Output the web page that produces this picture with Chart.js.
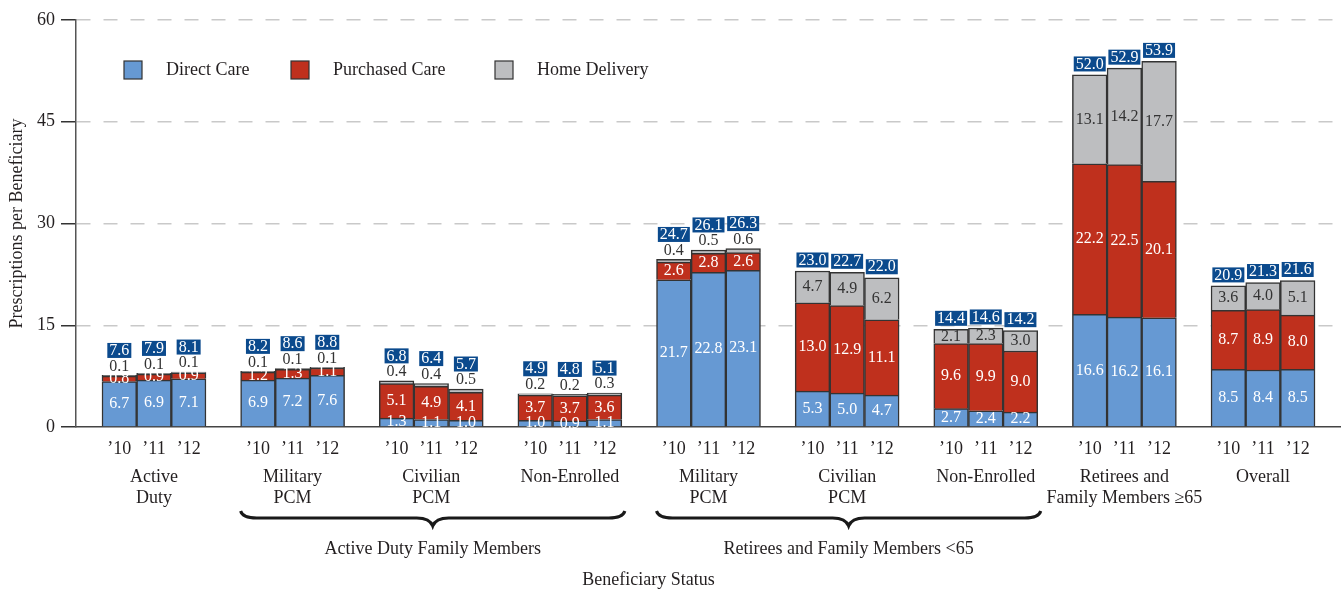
<!DOCTYPE html>
<html><head><meta charset="utf-8">
<script src="https://cdn.jsdelivr.net/npm/chart.js@4.4.0/dist/chart.umd.min.js"></script>
<style>html,body{margin:0;padding:0;background:#fff}#wrap{width:1341px;height:590px;position:relative}</style>
</head><body><div id="wrap"><canvas id="c" width="1341" height="590"></canvas></div>
<script>
// ---- data ----
const years = ['\u201910', '\u201911', '\u201912'];
const groupLabels = [['Active', 'Duty'], ['Military', 'PCM'], ['Civilian', 'PCM'], ['Non-Enrolled'], ['Military', 'PCM'], ['Civilian', 'PCM'], ['Non-Enrolled'], ['Retirees and', 'Family Members \u226565'], ['Overall']];
const superGroups = [
  { label: 'Active Duty Family Members', from: 1, to: 3 },
  { label: 'Retirees and Family Members <65', from: 4, to: 6 }
];
const seriesNames = ['Direct Care', 'Purchased Care', 'Home Delivery'];
const directCare    = [6.7, 6.9, 7.1, 6.9, 7.2, 7.6, 1.3, 1.1, 1.0, 1.0, 0.9, 1.1, 21.7, 22.8, 23.1, 5.3, 5.0, 4.7, 2.7, 2.4, 2.2, 16.6, 16.2, 16.1, 8.5, 8.4, 8.5];
const purchasedCare = [0.8, 0.9, 0.9, 1.2, 1.3, 1.1, 5.1, 4.9, 4.1, 3.7, 3.7, 3.6, 2.6, 2.8, 2.6, 13.0, 12.9, 11.1, 9.6, 9.9, 9.0, 22.2, 22.5, 20.1, 8.7, 8.9, 8.0];
const homeDelivery  = [0.1, 0.1, 0.1, 0.1, 0.1, 0.1, 0.4, 0.4, 0.5, 0.2, 0.2, 0.3, 0.4, 0.5, 0.6, 4.7, 4.9, 6.2, 2.1, 2.3, 3.0, 13.1, 14.2, 17.7, 3.6, 4.0, 5.1];
const totals        = [7.6, 7.9, 8.1, 8.2, 8.6, 8.8, 6.8, 6.4, 5.7, 4.9, 4.8, 5.1, 24.7, 26.1, 26.3, 23.0, 22.7, 22.0, 14.4, 14.6, 14.2, 52.0, 52.9, 53.9, 20.9, 21.3, 21.6];
const yTickValues = [0, 15, 30, 45, 60];

// ---- styling / layout ----
const FONT = "'Liberation Serif', 'Times New Roman', serif";
const TXT = '#231f20';
const COLORS = ['#6699d3', '#bf301d', '#bdbec0'];
const BOX = '#0b4a8d';
const SLOTS_PER_GROUP = 4;       // 3 bars + 1 gap
const EDGE = 0.75;               // empty slot fraction at each end
const nGroups = groupLabels.length;
const xMax = nGroups * SLOTS_PER_GROUP - 1 + 2 * EDGE;
const barPos = directCare.map((_, i) => EDGE + Math.floor(i / 3) * SLOTS_PER_GROUP + (i % 3) + 0.5);

const mk = (arr) => arr.map((v, i) => ({ x: barPos[i], y: v }));

const overlay = {
  id: 'overlay',
  afterDatasetsDraw(chart) {
    const ctx = chart.ctx;
    const m = [0, 1, 2].map(k => chart.getDatasetMeta(k));
    ctx.save();
    ctx.font = `16px ${FONT}`;
    ctx.textAlign = 'center';
    ctx.textBaseline = 'middle';
    for (let i = 0; i < totals.length; i++) {
      const b = m[0].data[i], r = m[1].data[i], g = m[2].data[i];
      ctx.fillStyle = '#fff';
      ctx.fillText(directCare[i].toFixed(1), b.x, (b.y + b.base) / 2);
      ctx.fillText(purchasedCare[i].toFixed(1), r.x, (r.y + r.base) / 2);
      let boxCy;
      ctx.fillStyle = '#333';
      if (homeDelivery[i] >= 1) {
        ctx.fillText(homeDelivery[i].toFixed(1), g.x, (g.y + g.base) / 2);
        boxCy = g.y - 11;
      } else {
        ctx.fillText(homeDelivery[i].toFixed(1), g.x, g.y - 9);
        boxCy = g.y - 25;
      }
      const t = totals[i].toFixed(1);
      const w = ctx.measureText(t).width + 4;
      ctx.fillStyle = BOX;
      ctx.fillRect(g.x - w / 2, boxCy - 7.5, w, 15);
      ctx.fillStyle = '#fff';
      ctx.fillText(t, g.x, boxCy + 0.5);
    }
    ctx.restore();
  },
  afterDraw(chart) {
    const ctx = chart.ctx;
    const meta = chart.getDatasetMeta(0);
    const area = chart.chartArea;
    ctx.save();
    ctx.fillStyle = TXT;
    ctx.strokeStyle = '#1a1a1a';
    ctx.textAlign = 'center';
    ctx.textBaseline = 'middle';
    ctx.font = `18px ${FONT}`;
    // group labels
    groupLabels.forEach((lines, gi) => {
      const x = meta.data[gi * 3 + 1].x;
      lines.forEach((ln, li) => ctx.fillText(ln, x, 477 + li * 21));
    });
    // braces + super-group labels
    superGroups.forEach(sg => {
      const first = meta.data[sg.from * 3], last = meta.data[sg.to * 3 + 2];
      const x1 = first.x - first.width / 2, x2 = last.x + last.width / 2 + 3;
      const xm = (x1 + x2) / 2, yTop = 511, yMid = 518, yTip = 526;
      ctx.beginPath();
      ctx.moveTo(x1, yTop);
      ctx.quadraticCurveTo(x1 + 2, yMid, x1 + 16, yMid);
      ctx.lineTo(xm - 16, yMid);
      ctx.quadraticCurveTo(xm - 3, yMid, xm, yTip);
      ctx.quadraticCurveTo(xm + 3, yMid, xm + 16, yMid);
      ctx.lineTo(x2 - 16, yMid);
      ctx.quadraticCurveTo(x2 - 2, yMid, x2, yTop);
      ctx.lineWidth = 3;
      ctx.stroke();
      ctx.fillText(sg.label, xm, 549);
    });
    // x axis title
    ctx.fillText('Beneficiary Status', (area.left + area.right) / 2 - 60, 580);
    // legend
    const legX = [124, 291, 495];
    seriesNames.forEach((name, k) => {
      ctx.fillStyle = COLORS[k];
      ctx.fillRect(legX[k], 61, 18, 18);
      ctx.lineWidth = 1.2;
      ctx.strokeStyle = '#333';
      ctx.strokeRect(legX[k], 61, 18, 18);
      ctx.fillStyle = TXT;
      ctx.textAlign = 'left';
      ctx.fillText(name, legX[k] + 42, 70);
    });
    ctx.restore();
  }
};

new Chart(document.getElementById('c'), {
  type: 'bar',
  data: {
    datasets: [
      { label: seriesNames[0], data: mk(directCare), backgroundColor: COLORS[0], stack: 's' },
      { label: seriesNames[1], data: mk(purchasedCare), backgroundColor: COLORS[1], stack: 's' },
      { label: seriesNames[2], data: mk(homeDelivery), backgroundColor: COLORS[2], stack: 's' }
    ]
  },
  options: {
    responsive: false,
    animation: false,
    layout: { padding: { top: 20, right: 0, left: 0, bottom: 0 } },
    datasets: { bar: { barPercentage: 1, categoryPercentage: 1, borderColor: '#333', borderWidth: 1.5 } },
    plugins: { legend: { display: false }, tooltip: { enabled: false } },
    scales: {
      x: {
        type: 'linear', min: 0, max: xMax, offset: false,
        grid: { display: false, offset: false },
        border: { display: true, color: '#444', width: 1.5 },
        afterBuildTicks: s => { s.ticks = barPos.map(v => ({ value: v })); },
        afterFit: s => { s.height = 163; },
        ticks: {
          autoSkip: false, maxRotation: 0, padding: 3, color: TXT,
          font: { family: FONT, size: 18 },
          callback: (v, i) => years[i % 3]
        }
      },
      y: {
        stacked: true, min: 0, max: 60,
        afterBuildTicks: s => { s.ticks = yTickValues.map(v => ({ value: v })); },
        afterFit: s => { s.width = 76; },
        grid: {
          color: c => (c.tick && c.tick.value === 0) ? 'rgba(0,0,0,0)' : '#c9c9c9',
          lineWidth: 1.5, tickColor: '#333', tickLength: 15, tickWidth: 1.5, tickBorderDash: []
        },
        border: { display: true, color: '#555', width: 1.5, dash: [14, 13] },
        ticks: { padding: 6, color: TXT, font: { family: FONT, size: 18 } },
        title: { display: true, text: 'Prescriptions per Beneficiary', color: TXT, font: { family: FONT, size: 18 }, padding: { top: 6, bottom: 0 } }
      }
    }
  },
  plugins: [overlay]
});
</script>
</body></html>
